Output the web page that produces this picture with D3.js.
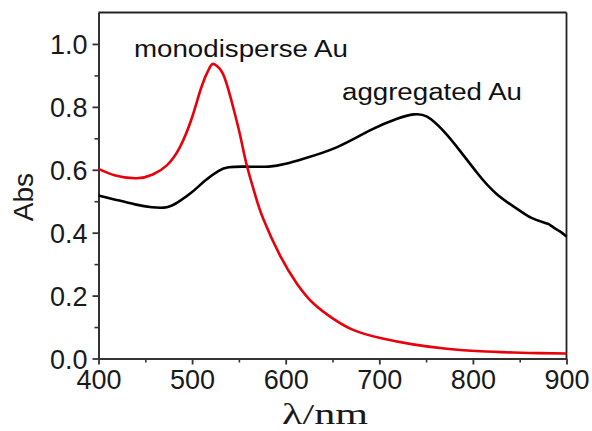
<!DOCTYPE html>
<meta charset="utf-8">
<style>
body { margin: 0; background: #fff; }
svg { display: block; }
.tick text { font-family: Arial, 'Liberation Sans', sans-serif; font-size: 27px; fill: #1a1a1a; }
.note { font-family: Arial, 'Liberation Sans', sans-serif; font-size: 23px; fill: #111; }
</style>
<body>
<div id="chart"></div>
<script src="https://cdn.jsdelivr.net/npm/d3@7"></script>
<script>
// wavelengths (nm) and absorbance
var monoWl  = [400, 418, 441, 458, 473, 487, 500, 510, 519, 524, 533, 542, 551, 558, 567, 576, 594, 612, 630, 651, 672, 701, 736, 772, 808, 843, 870, 900];
var monoAbs = [0.603, 0.582, 0.573, 0.585, 0.614, 0.672, 0.767, 0.863, 0.926, 0.935, 0.905, 0.82, 0.714, 0.619, 0.524, 0.444, 0.327, 0.238, 0.174, 0.126, 0.091, 0.065, 0.045, 0.031, 0.023, 0.019, 0.017, 0.016];

var aggWl  = [400, 418, 439, 457, 473, 485, 500, 514, 528, 539, 557, 582, 600, 619, 655, 690, 719, 737, 751, 768, 786, 804, 825, 850, 862, 875, 881, 886, 893, 900];
var aggAbs = [0.518, 0.505, 0.49, 0.481, 0.481, 0.497, 0.529, 0.566, 0.596, 0.608, 0.61, 0.61, 0.619, 0.635, 0.672, 0.725, 0.762, 0.776, 0.769, 0.725, 0.661, 0.592, 0.524, 0.47, 0.448, 0.433, 0.427, 0.417, 0.404, 0.388];

var xTicks = [400, 500, 600, 700, 800, 900];
var yTicks = [0.0, 0.2, 0.4, 0.6, 0.8, 1.0];

var width = 592, height = 431;
var plotL = 98.5, plotR = 566.5, plotT = 12.5, plotB = 358.5;

var svg = d3.select('#chart')
            .append('svg')
            .attr('width', width)
            .attr('height', height)

var x = d3.scaleLinear().domain([400, 900]).range([plotL, plotR]);
var y = d3.scaleLinear().domain([0, 1.1]).range([plotB, plotT]);

// minor ticks first, then major axes on top
svg.append('g')
   .attr('transform', 'translate(0,' + plotB + ')')
   .call(d3.axisBottom(x).tickValues(d3.range(450, 900, 100)).tickSize(4).tickFormat(''))
   .call(function(g){ g.select('.domain').remove(); g.selectAll('line').attr('stroke', '#333').attr('stroke-width', 1.6); })

svg.append('g')
   .attr('transform', 'translate(' + plotL + ',0)')
   .call(d3.axisLeft(y).tickValues(d3.range(0.1, 1.1, 0.2)).tickSize(4).tickFormat(''))
   .call(function(g){ g.select('.domain').remove(); g.selectAll('line').attr('stroke', '#333').attr('stroke-width', 1.6); })

var xAxis = svg.append('g')
   .attr('transform', 'translate(0,' + plotB + ')')
   .call(d3.axisBottom(x).tickValues(xTicks).tickSize(6).tickSizeOuter(0).tickPadding(5))

var yAxis = svg.append('g')
   .attr('transform', 'translate(' + plotL + ',0)')
   .call(d3.axisLeft(y).tickValues(yTicks).tickSize(6).tickSizeOuter(0).tickPadding(5).tickFormat(d3.format('.1f')))

xAxis.selectAll('line').attr('stroke', '#333').attr('stroke-width', 1.8)
yAxis.selectAll('line').attr('stroke', '#333').attr('stroke-width', 1.8)
xAxis.select('.domain').attr('stroke', '#333').attr('stroke-width', 2)
yAxis.select('.domain').attr('stroke', '#333').attr('stroke-width', 2)
yAxis.selectAll('text').attr('dy', '0.36em')

// top and right frame lines
svg.append('line')
   .attr('x1', plotL).attr('x2', plotR).attr('y1', plotT).attr('y2', plotT)
   .attr('stroke', '#222').attr('stroke-width', 1.8)
svg.append('line')
   .attr('x1', plotR).attr('x2', plotR).attr('y1', plotT).attr('y2', plotB)
   .attr('stroke', '#222').attr('stroke-width', 1.8)

var line = d3.line()
  .x(function(d) { return x(d[0]); })
  .y(function(d) { return y(d[1]); })
  .curve(d3.curveNatural);

svg.append('path')
   .datum(d3.zip(aggWl, aggAbs))
   .attr('fill', 'none')
   .attr('stroke', '#000')
   .attr('stroke-width', 2.6)
   .attr('d', line)

svg.append('path')
   .datum(d3.zip(monoWl, monoAbs))
   .attr('fill', 'none')
   .attr('stroke', '#e8000b')
   .attr('stroke-width', 2.6)
   .attr('d', line)

svg.append('text')
   .attr('class', 'note')
   .attr('x', 134)
   .attr('y', 57)
   .attr('textLength', 214)
   .attr('lengthAdjust', 'spacingAndGlyphs')
   .text('monodisperse Au')

svg.append('text')
   .attr('class', 'note')
   .attr('x', 342)
   .attr('y', 100)
   .attr('textLength', 180)
   .attr('lengthAdjust', 'spacingAndGlyphs')
   .text('aggregated Au')

svg.append('text')
   .attr('transform', 'translate(33,197) rotate(-90)')
   .attr('text-anchor', 'middle')
   .style('font-family', "Arial, 'Liberation Sans', sans-serif")
   .style('font-size', '28px')
   .style('fill', '#1a1a1a')
   .text('Abs')

svg.append('text')
   .attr('x', 282)
   .attr('y', 424)
   .attr('textLength', 86)
   .attr('lengthAdjust', 'spacingAndGlyphs')
   .style('font-family', "'Liberation Serif', 'Times New Roman', serif")
   .style('font-size', '30px')
   .style('fill', '#1a1a1a')
   .text('λ/nm')
</script>
</body>
